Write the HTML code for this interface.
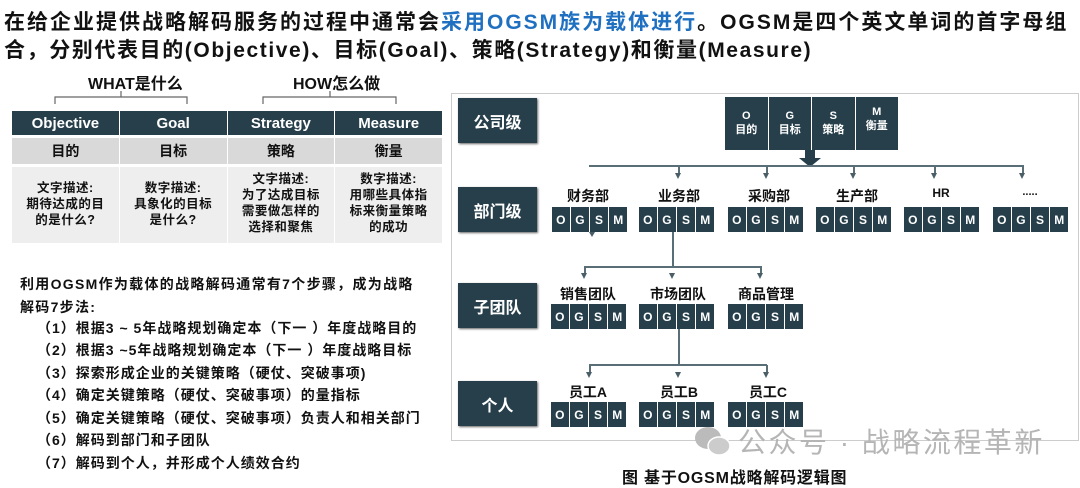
<!DOCTYPE html>
<html><head><meta charset="utf-8"><style>
body{margin:0;width:1080px;height:488px;background:#fff;position:relative;overflow:hidden;font-family:"Liberation Sans","Noto Sans CJK SC",sans-serif;font-weight:bold;color:#111}
.a{position:absolute;white-space:nowrap}
.t{font-size:21px;left:4px}
.lv{position:absolute;left:458px;width:79px;height:45px;background:#263f4b;color:#fff;font-size:16px;display:flex;align-items:center;justify-content:center;box-shadow:1px 1px 2px #666}
.g{position:absolute;display:flex;gap:1.5px;width:75px;height:25px}
.g span{flex:1;background:#263f4b;color:#fff;font-size:12px;display:flex;align-items:center;justify-content:center}
.lb{position:absolute;width:100px;text-align:center;font-size:14px}
.hl{position:absolute;height:2px;background:#5a6e78}
.vl{position:absolute;width:1.5px;background:#5a6e78}
.ar{position:absolute;width:0;height:0;border-left:3.5px solid transparent;border-right:3.5px solid transparent;border-top:6px solid #4a5e68}
.li{position:absolute;font-size:14px;left:37px;letter-spacing:1px}
</style></head><body>
<div class="a t" style="top:6px;letter-spacing:2.0px">在给企业提供战略解码服务的过程中通常会<span style="color:#1f70c1">采用OGSM族为载体进行</span>。OGSM是四个英文单词的首字母组</div>
<div class="a t" style="top:34px;letter-spacing:1.6px">合，分别代表目的(Objective)、目标(Goal)、策略(Strategy)和衡量(Measure)</div>

<div class="a" style="left:88px;top:70px;font-size:16px">WHAT是什么</div>
<div class="a" style="left:293px;top:70px;font-size:16px">HOW怎么做</div>
<svg class="a" style="left:0;top:88px" width="450" height="20"><path d="M55 16 V9 H121 V3 M121 9 H187 V16 M263 16 V9 H330 V3 M330 9 H396 V16" fill="none" stroke="#666" stroke-width="1.2"/></svg>

<div class="a" style="left:12px;top:111px;width:430px;height:132px">
<div style="display:flex;gap:1px;height:24px;background:#fff">
<div style="flex:1;background:#263f4b;color:#fff;font-size:15px;display:flex;align-items:center;justify-content:center">Objective</div>
<div style="flex:1;background:#263f4b;color:#fff;font-size:15px;display:flex;align-items:center;justify-content:center">Goal</div>
<div style="flex:1;background:#263f4b;color:#fff;font-size:15px;display:flex;align-items:center;justify-content:center">Strategy</div>
<div style="flex:1;background:#263f4b;color:#fff;font-size:15px;display:flex;align-items:center;justify-content:center">Measure</div></div>
<div style="display:flex;gap:1px;height:26px;margin-top:3px">
<div style="flex:1;background:#d9d9d9;font-size:14px;display:flex;align-items:center;justify-content:center">目的</div>
<div style="flex:1;background:#d9d9d9;font-size:14px;display:flex;align-items:center;justify-content:center">目标</div>
<div style="flex:1;background:#d9d9d9;font-size:14px;display:flex;align-items:center;justify-content:center">策略</div>
<div style="flex:1;background:#d9d9d9;font-size:14px;display:flex;align-items:center;justify-content:center">衡量</div></div>
<div style="display:flex;gap:1px;height:76px;margin-top:3px;font-size:12.5px;line-height:16px;text-align:center;letter-spacing:0.5px">
<div style="flex:1;background:#eeeeee;padding-top:13px">文字描述:<br>期待达成的目<br>的是什么?</div>
<div style="flex:1;background:#eeeeee;padding-top:13px">数字描述:<br>具象化的目标<br>是什么?</div>
<div style="flex:1;background:#eeeeee;padding-top:4px">文字描述:<br>为了达成目标<br>需要做怎样的<br>选择和聚焦</div>
<div style="flex:1;background:#eeeeee;padding-top:4px">数字描述:<br>用哪些具体指<br>标来衡量策略<br>的成功</div></div>
</div>

<div class="a" style="left:20px;top:273px;font-size:14px;line-height:22.5px;letter-spacing:1.3px">利用OGSM作为载体的战略解码通常有7个步骤，成为战略<br>解码7步法:</div>
<div class="a li" style="top:318px">（1）根据3 ~ 5年战略规划确定本（下一 ）年度战略目的</div>
<div class="a li" style="top:340px">（2）根据3 ~5年战略规划确定本（下一 ）年度战略目标</div>
<div class="a li" style="top:363px">（3）探索形成企业的关键策略（硬仗、突破事项)</div>
<div class="a li" style="top:385px">（4）确定关键策略（硬仗、突破事项）的量指标</div>
<div class="a li" style="top:408px">（5）确定关键策略（硬仗、突破事项）负责人和相关部门</div>
<div class="a li" style="top:430px">（6）解码到部门和子团队</div>
<div class="a li" style="top:453px">（7）解码到个人，并形成个人绩效合约</div>

<div class="a" style="left:451px;top:93px;width:626px;height:346px;border:1px solid #ccc"></div>
<div class="lv" style="top:98px">公司级</div>
<div class="lv" style="top:187px">部门级</div>
<div class="lv" style="top:283px">子团队</div>
<div class="lv" style="top:381px">个人</div>

<div class="a" style="left:725px;top:97px;width:173px;height:53px;display:flex;gap:1px">
<div style="flex:1;background:#263f4b;color:#fff;font-size:11px;text-align:center;padding-top:12px;line-height:14px">O<br>目的</div>
<div style="flex:1;background:#263f4b;color:#fff;font-size:11px;text-align:center;padding-top:12px;line-height:14px">G<br>目标</div>
<div style="flex:1;background:#263f4b;color:#fff;font-size:11px;text-align:center;padding-top:12px;line-height:14px">S<br>策略</div>
<div style="flex:1;background:#263f4b;color:#fff;font-size:11px;text-align:center;padding-top:8px;line-height:14px">M<br>衡量</div></div>
<svg class="a" style="left:798px;top:150px" width="24" height="18"><path d="M7 0 H17 V8 H23 L12 17 L1 8 H7 Z" fill="#263f4b"/></svg>

<div class="hl" style="left:589px;top:165px;width:435px"></div>
<div class="vl" style="left:678px;top:166px;height:8px"></div><div class="ar" style="left:675px;top:173px"></div>
<div class="vl" style="left:766px;top:166px;height:8px"></div><div class="ar" style="left:763px;top:173px"></div>
<div class="vl" style="left:853px;top:166px;height:8px"></div><div class="ar" style="left:850px;top:173px"></div>
<div class="vl" style="left:934px;top:166px;height:8px"></div><div class="ar" style="left:931px;top:173px"></div>
<div class="vl" style="left:1022px;top:166px;height:8px"></div><div class="ar" style="left:1019px;top:173px"></div>

<div class="lb" style="left:538px;top:186px">财务部</div>
<div class="lb" style="left:629px;top:186px">业务部</div>
<div class="lb" style="left:719px;top:186px">采购部</div>
<div class="lb" style="left:807px;top:186px">生产部</div>
<div class="lb" style="left:891px;top:186px;font-size:12px">HR</div>
<div class="lb" style="left:980px;top:186px;font-size:11px">.....</div>
<div class="g" style="left:552px;top:207px"><span>O</span><span>G</span><span>S</span><span>M</span></div>
<div class="g" style="left:639px;top:207px"><span>O</span><span>G</span><span>S</span><span>M</span></div>
<div class="g" style="left:728px;top:207px"><span>O</span><span>G</span><span>S</span><span>M</span></div>
<div class="g" style="left:816px;top:207px"><span>O</span><span>G</span><span>S</span><span>M</span></div>
<div class="g" style="left:904px;top:207px"><span>O</span><span>G</span><span>S</span><span>M</span></div>
<div class="g" style="left:993px;top:207px"><span>O</span><span>G</span><span>S</span><span>M</span></div>
<div class="ar" style="left:589px;top:232px;border-top-width:5px"></div>

<div class="vl" style="left:672px;top:232px;height:35px"></div>
<div class="hl" style="left:584px;top:266px;width:177px"></div>
<div class="vl" style="left:584px;top:266px;height:8px"></div><div class="ar" style="left:581px;top:273px"></div>
<div class="ar" style="left:669px;top:273px"></div>
<div class="vl" style="left:760px;top:266px;height:8px"></div><div class="ar" style="left:757px;top:273px"></div>
<div class="lb" style="left:538px;top:284px">销售团队</div>
<div class="lb" style="left:628px;top:284px">市场团队</div>
<div class="lb" style="left:716px;top:284px">商品管理</div>
<div class="g" style="left:551px;top:304px"><span>O</span><span>G</span><span>S</span><span>M</span></div>
<div class="g" style="left:639px;top:304px"><span>O</span><span>G</span><span>S</span><span>M</span></div>
<div class="g" style="left:728px;top:304px"><span>O</span><span>G</span><span>S</span><span>M</span></div>

<div class="vl" style="left:678px;top:329px;height:36px"></div>
<div class="hl" style="left:589px;top:364px;width:178px"></div>
<div class="vl" style="left:589px;top:365px;height:8px"></div><div class="ar" style="left:586px;top:372px"></div>
<div class="ar" style="left:675px;top:372px"></div>
<div class="vl" style="left:766px;top:365px;height:8px"></div><div class="ar" style="left:763px;top:372px"></div>
<div class="lb" style="left:538px;top:382px">员工A</div>
<div class="lb" style="left:629px;top:382px">员工B</div>
<div class="lb" style="left:718px;top:382px">员工C</div>
<div class="g" style="left:551px;top:402px"><span>O</span><span>G</span><span>S</span><span>M</span></div>
<div class="g" style="left:639px;top:402px"><span>O</span><span>G</span><span>S</span><span>M</span></div>
<div class="g" style="left:728px;top:402px"><span>O</span><span>G</span><span>S</span><span>M</span></div>

<svg class="a" style="left:693px;top:425px" width="40" height="34"><ellipse cx="15" cy="13" rx="13" ry="11" fill="#bbb"/><ellipse cx="26" cy="21" rx="11" ry="9" fill="#ccc" stroke="#fff" stroke-width="1.5"/></svg>
<div class="a" style="left:738px;top:421px;font-size:28px;font-weight:normal;color:#b5b5b5;letter-spacing:2.5px">公众号 · 战略流程革新</div>
<div class="a" style="left:622px;top:464px;font-size:16px;letter-spacing:0.8px">图 基于OGSM战略解码逻辑图</div>
</body></html>
